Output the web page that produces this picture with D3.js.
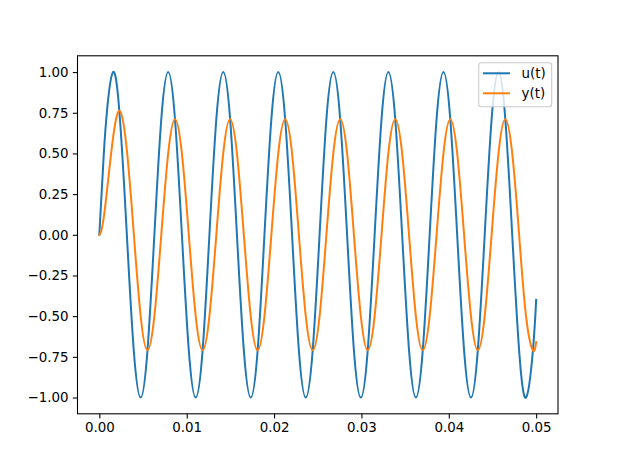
<!DOCTYPE html>
<html>
<head>
<meta charset="utf-8">
<script src="https://cdn.jsdelivr.net/npm/d3@7"></script>
<style>
  body { margin: 0; background: #fff; }
  text { font-family: "DejaVu Sans", sans-serif; }
</style>
</head>
<body>
<svg id="chart"></svg>
<script>
// values
var times = [
  0, 0.0002, 0.0004, 0.00079, 0.00158, 0.00236, 0.00315, 0.00394, 0.00473, 0.00551,
  0.00630, 0.00709, 0.00788, 0.00866, 0.00945, 0.01024, 0.01103, 0.01182,
  0.01260, 0.01339, 0.01418, 0.01497, 0.01575, 0.01654, 0.01733, 0.01812,
  0.01890, 0.01969, 0.02048, 0.02127, 0.02206, 0.02284, 0.02363, 0.02442,
  0.02521, 0.02599, 0.02678, 0.02757, 0.02836, 0.02914, 0.02993, 0.03072,
  0.03151, 0.03230, 0.03308, 0.03387, 0.03466, 0.03545, 0.03623, 0.03702,
  0.03781, 0.03860, 0.03939, 0.04017, 0.04096, 0.04175, 0.04254, 0.04332,
  0.04411, 0.04490, 0.04569, 0.04647, 0.04726, 0.04805, 0.04884, 0.04963,
  0.05000
];

var uValues = [
  0, 0.20, 0.39, 0.71, 1.00, 0.71, 0.00, -0.71, -1.00, -0.71,
  0, 0.71, 1.00, 0.71, 0.00, -0.71, -1.00, -0.71,
  0, 0.71, 1.00, 0.71, 0.00, -0.71, -1.00, -0.71,
  0, 0.71, 1.00, 0.71, 0.00, -0.71, -1.00, -0.71,
  0, 0.71, 1.00, 0.71, 0.00, -0.71, -1.00, -0.71,
  0, 0.71, 1.00, 0.71, 0.00, -0.71, -1.00, -0.71,
  0, 0.71, 1.00, 0.71, 0.00, -0.71, -1.00, -0.71,
  0, 0.71, 1.00, 0.71, 0.00, -0.71, -1.00, -0.71,
  -0.40
];

var yValues = [
  0, 0.02, 0.07, 0.23, 0.60, 0.76, 0.52, 0.01, -0.50, -0.71,
  -0.50, 0.00, 0.50, 0.71, 0.50, 0.00, -0.50, -0.71,
  -0.50, 0.00, 0.50, 0.71, 0.50, 0.00, -0.50, -0.71,
  -0.50, 0.00, 0.50, 0.71, 0.50, 0.00, -0.50, -0.71,
  -0.50, 0.00, 0.50, 0.71, 0.50, 0.00, -0.50, -0.71,
  -0.50, 0.00, 0.50, 0.71, 0.50, 0.00, -0.50, -0.71,
  -0.50, 0.00, 0.50, 0.71, 0.50, 0.00, -0.50, -0.71,
  -0.50, 0.00, 0.50, 0.71, 0.50, 0.00, -0.50, -0.71,
  -0.66
];

var xTicks = [0, 0.01, 0.02, 0.03, 0.04, 0.05];
var yTicks = [-1, -0.75, -0.5, -0.25, 0, 0.25, 0.5, 0.75, 1];
var seriesNames = ["u(t)", "y(t)"];
var colors = ["#1f77b4", "#ff7f0e"];

var dimensions = {
    width: 620,
    height: 465,
    margin: { top: 55.8, right: 62, bottom: 51.2, left: 77.5 }
};

var svg = d3.select("#chart")
            .attr("width", dimensions.width)
            .attr("height", dimensions.height)
            .style("background-color", "#fff");

var xScale = d3.scaleLinear()
            .domain([-0.0025, 0.0525])
            .range([dimensions.margin.left, dimensions.width - dimensions.margin.right]);

var yScale = d3.scaleLinear()
            .domain([-1.1, 1.1])
            .range([dimensions.height - dimensions.margin.bottom, dimensions.margin.top]);

var series = [uValues, yValues];

var line = d3.line()
            .x((d, i) => xScale(times[i]))
            .y(d => yScale(d))
            .curve(d3.curveNatural);

var plot = svg.append("g");

plot.selectAll("path.series")
    .data(series)
    .enter()
    .append("path")
    .attr("class", "series")
    .attr("d", d => line(d))
    .attr("fill", "none")
    .attr("stroke", (d, i) => colors[i])
    .attr("stroke-width", 2)
    .attr("stroke-linejoin", "round")
    .attr("stroke-linecap", "square");

// axes
var xAxis = svg.append("g")
    .attr("transform", `translate(0,${dimensions.height - dimensions.margin.bottom})`)
    .call(d3.axisBottom(xScale).tickValues(xTicks).tickFormat(d3.format(".2f"))
        .tickSizeInner(4.7).tickSizeOuter(0).tickPadding(4.2));

var yAxis = svg.append("g")
    .attr("transform", `translate(${dimensions.margin.left},0)`)
    .call(d3.axisLeft(yScale).tickValues(yTicks).tickFormat(d3.format(".2f"))
        .tickSizeInner(4.7).tickSizeOuter(0).tickPadding(4.2));

[xAxis, yAxis].forEach(function(ax) {
    ax.select(".domain").remove();
    ax.selectAll("line").attr("stroke", "#000").attr("stroke-width", 1.08);
    ax.selectAll("text")
      .attr("fill", "#000")
      .style("font-size", "13.4px")
      .style("font-family", "DejaVu Sans, sans-serif");
});

// frame
svg.append("rect")
    .attr("x", dimensions.margin.left)
    .attr("y", dimensions.margin.top)
    .attr("width", dimensions.width - dimensions.margin.right - dimensions.margin.left)
    .attr("height", dimensions.height - dimensions.margin.bottom - dimensions.margin.top)
    .attr("fill", "none")
    .attr("stroke", "#000")
    .attr("stroke-width", 1.08);

// legend
var legend = svg.append("g");

legend.append("rect")
    .attr("x", 478.7)
    .attr("y", 62.7)
    .attr("width", 73)
    .attr("height", 44)
    .attr("rx", 2.7)
    .attr("fill", "#fff")
    .attr("fill-opacity", 0.8)
    .attr("stroke", "#cccccc")
    .attr("stroke-width", 1.08);

var items = legend.selectAll("g.item")
    .data(seriesNames)
    .enter()
    .append("g")
    .attr("class", "item")
    .attr("transform", (d, i) => `translate(483,${73.3 + i * 20})`);

items.append("line")
    .attr("x1", 0)
    .attr("x2", 27)
    .attr("stroke", (d, i) => colors[i])
    .attr("stroke-width", 2);

items.append("text")
    .attr("x", 38.5)
    .attr("dy", "0.35em")
    .style("font-size", "13.4px")
    .attr("fill", "#000")
    .text(d => d);
</script>
</body>
</html>
